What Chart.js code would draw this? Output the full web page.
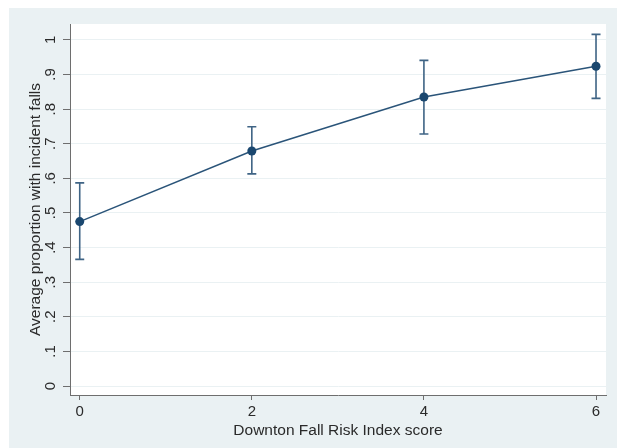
<!DOCTYPE html>
<html>
<head>
<meta charset="utf-8">
<script src="https://cdn.jsdelivr.net/npm/chart.js@4"></script>
<style>
html,body{margin:0;padding:0;background:#ffffff;}
#wrap{width:617px;height:448px;}
</style>
</head>
<body>
<div id="wrap"><canvas id="c" width="617" height="448"></canvas></div>
<script>
const scores = [0, 2, 4, 6];
const meanProportion = [0.475, 0.679, 0.835, 0.924];
const ciLower = [0.366, 0.613, 0.728, 0.831];
const ciUpper = [0.587, 0.749, 0.941, 1.016];
const yTickValues = [0, 0.1, 0.2, 0.3, 0.4, 0.5, 0.6, 0.7, 0.8, 0.9, 1];
const xTickValues = [0, 2, 4, 6];
const xTitle = 'Downton Fall Risk Index score';
const yTitle = 'Average proportion with incident falls';

const NAVY = '#1a476f';
const LINE = '#2a5479';
const BAR = '#3f6485';
const FONT = 'Liberation Sans, Arial, sans-serif';

const bgPlugin = {
  id: 'bg',
  beforeDraw(chart) {
    const ctx = chart.ctx;
    const a = chart.chartArea;
    ctx.save();
    ctx.fillStyle = '#ffffff';
    ctx.fillRect(0, 0, chart.width, chart.height);
    ctx.fillStyle = '#eaf1f3';
    ctx.fillRect(9, 8, chart.width - 9, chart.height - 8);
    ctx.fillStyle = '#ffffff';
    ctx.fillRect(a.left, a.top, a.right - a.left, a.bottom - a.top);
    ctx.restore();
  }
};

const errPlugin = {
  id: 'errbars',
  beforeDatasetsDraw(chart) {
    const ctx = chart.ctx;
    const xs = chart.scales.x, ys = chart.scales.y;
    ctx.save();
    ctx.strokeStyle = BAR;
    ctx.lineWidth = 1.6;
    scores.forEach((s, i) => {
      const px = xs.getPixelForValue(s);
      const lo = ys.getPixelForValue(ciLower[i]);
      const hi = ys.getPixelForValue(ciUpper[i]);
      ctx.beginPath();
      ctx.moveTo(px, lo); ctx.lineTo(px, hi);
      ctx.moveTo(px - 4.5, lo); ctx.lineTo(px + 4.5, lo);
      ctx.moveTo(px - 4.5, hi); ctx.lineTo(px + 4.5, hi);
      ctx.stroke();
    });
    ctx.restore();
  }
};

const fmtY = v => {
  if (Math.abs(v) < 1e-9) return '0';
  if (Math.abs(v - 1) < 1e-9) return '1';
  return '.' + Math.round(v * 10);
};

new Chart(document.getElementById('c'), {
  type: 'line',
  data: {
    datasets: [{
      data: scores.map((s, i) => ({ x: s, y: meanProportion[i] })),
      borderColor: LINE,
      backgroundColor: NAVY,
      borderWidth: 1.5,
      pointRadius: 4.5,
      pointBorderWidth: 0,
      pointBackgroundColor: NAVY,
      tension: 0,
      fill: false
    }]
  },
  options: {
    responsive: false,
    animation: false,
    devicePixelRatio: 1,
    layout: { padding: { left: 9, top: 24, right: 11, bottom: 0 } },
    plugins: { legend: { display: false }, tooltip: { enabled: false } },
    scales: {
      x: {
        type: 'linear',
        min: -0.113,
        max: 6.116,
        afterBuildTicks: s => { s.ticks = xTickValues.map(v => ({ value: v })); },
        afterFit: s => { s.height = 53; },
        grid: { drawOnChartArea: false, drawTicks: true, tickLength: 5, tickColor: '#6e6e6e', tickWidth: 1 },
        border: { display: true, color: '#6e6e6e', width: 1 },
        ticks: { color: '#2a2a2a', font: { family: FONT, size: 15 }, padding: 3, maxRotation: 0, autoSkip: false, callback: v => String(v) },
        title: { display: true, text: xTitle, color: '#2a2a2a', font: { family: FONT, size: 15.5 }, padding: { top: 0, bottom: 8 } }
      },
      y: {
        type: 'linear',
        min: -0.026,
        max: 1.046,
        afterBuildTicks: s => { s.ticks = yTickValues.map(v => ({ value: v })); },
        afterFit: s => { s.width = 61; },
        grid: { drawOnChartArea: true, color: '#eaf1f3', lineWidth: 1, drawTicks: true, tickLength: 7, tickColor: '#6e6e6e', tickWidth: 1 },
        border: { display: true, color: '#6e6e6e', width: 1 },
        ticks: { color: '#2a2a2a', font: { family: FONT, size: 15 }, padding: 6, minRotation: 90, maxRotation: 90, crossAlign: 'center', autoSkip: false, callback: v => fmtY(v) },
        title: { display: true, text: yTitle, color: '#2a2a2a', font: { family: FONT, size: 15.5 }, padding: { top: 17, bottom: 0 } }
      }
    }
  },
  plugins: [bgPlugin, errPlugin]
});
</script>
</body>
</html>
